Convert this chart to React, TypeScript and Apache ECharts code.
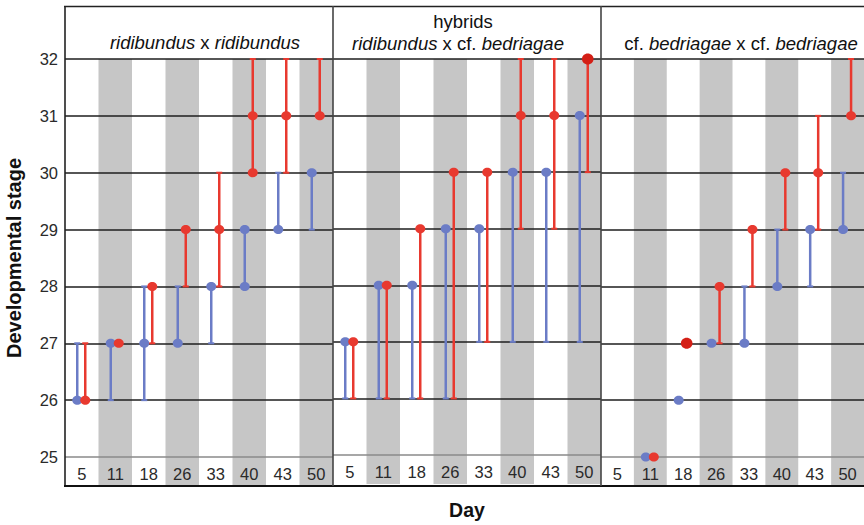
import React, { useEffect, useRef } from 'react';
import * as echarts from 'echarts';

// Day categories (x axis)
const days = ['5', '11', '18', '26', '33', '40', '43', '50'];
const stageTicks = [25, 26, 27, 28, 29, 30, 31, 32];

// ridibundus x ridibundus
const rrBlueLow = [26, 26, 26, 27, 27, 28, 29, 29];
const rrBlueHigh = [27, 27, 28, 28, 28, 29, 30, 30];
const rrBlueDots = [[26], [27], [27], [27], [28], [29, 28], [29], [30]];
const rrRedLow = [26, 27, 27, 28, 28, 30, 30, 31];
const rrRedHigh = [27, 27, 28, 29, 30, 32, 32, 32];
const rrRedDots = [[26], [27], [28], [29], [29], [31, 30], [31], [31]];
const rrRedMarked = [0, 0, 0, 0, 0, 0, 0, 0];

// hybrids ridibundus x cf. bedriagae
const hyBlueLow = [26, 26, 26, 26, 27, 27, 27, 27];
const hyBlueHigh = [27, 28, 28, 29, 29, 30, 30, 31];
const hyBlueDots = [[27], [28], [28], [29], [29], [30], [30], [31]];
const hyRedLow = [26, 26, 26, 26, 27, 29, 29, 30];
const hyRedHigh = [27, 28, 29, 30, 30, 32, 32, 32];
const hyRedDots = [[27], [28], [29], [30], [30], [31], [31], [32]];
const hyRedMarked = [0, 0, 0, 0, 0, 0, 0, 1];

// cf. bedriagae x cf. bedriagae
const bbBlueLow = [null, 25, 26, 27, 27, 28, 28, 29];
const bbBlueHigh = [null, 25, 26, 27, 28, 29, 29, 30];
const bbBlueDots = [[], [25], [26], [27], [27], [28], [29], [29]];
const bbRedLow = [null, 25, 27, 27, 28, 29, 29, 31];
const bbRedHigh = [null, 25, 27, 28, 29, 30, 31, 32];
const bbRedDots = [[], [25], [27], [28], [29], [30], [30], [31]];
const bbRedMarked = [0, 0, 1, 0, 0, 0, 0, 0];

const BLUE = '#6b7cc6';
const RED = '#e8392f';
const DARK_RED = '#d41f16';
const STRIPE = '#c6c6c6';
const FONT = '"Liberation Sans", Arial, Helvetica, sans-serif';

const panels = [
  { bl: rrBlueLow, bh: rrBlueHigh, bd: rrBlueDots, rl: rrRedLow, rh: rrRedHigh, rd: rrRedDots, rm: rrRedMarked },
  { bl: hyBlueLow, bh: hyBlueHigh, bd: hyBlueDots, rl: hyRedLow, rh: hyRedHigh, rd: hyRedDots, rm: hyRedMarked },
  { bl: bbBlueLow, bh: bbBlueHigh, bd: bbBlueDots, rl: bbRedLow, rh: bbRedHigh, rd: bbRedDots, rm: bbRedMarked },
];

const GRID_LEFTS = [65, 333, 601];
const GRID_W = 268;
const GRID_TOP = 59;
const GRID_H = 398;
const BAND = 29;

function rangeSeries(g: number, low: any[], high: any[], dots: number[][], marked: number[] | null, color: string, offset: number) {
  const data: number[][] = [];
  days.forEach((_, i) => {
    if (low[i] != null) data.push([i, low[i], high[i]]);
  });
  return {
    type: 'custom',
    xAxisIndex: g,
    yAxisIndex: g,
    z: 5,
    clip: false,
    silent: true,
    data,
    renderItem: (params: any, api: any) => {
      const i = api.value(0);
      const lo = api.value(1);
      const hi = api.value(2);
      const a = api.coord([i, hi]);
      const b = api.coord([i, lo]);
      const x = a[0] + offset;
      const children: any[] = [];
      if (hi > lo) {
        children.push({ type: 'line', shape: { x1: x, y1: a[1], x2: x, y2: b[1] }, style: { stroke: color, lineWidth: 2.5 } });
        children.push({ type: 'line', shape: { x1: x - 3, y1: a[1], x2: x + 3, y2: a[1] }, style: { stroke: color, lineWidth: 2 } });
        children.push({ type: 'line', shape: { x1: x - 3, y1: b[1], x2: x + 3, y2: b[1] }, style: { stroke: color, lineWidth: 2 } });
      }
      const big = marked && marked[i];
      dots[i].forEach((v) => {
        const p = api.coord([i, v]);
        children.push({
          type: 'ellipse',
          shape: { cx: x, cy: p[1], rx: big ? 5.8 : 5, ry: big ? 5.5 : 4.5 },
          style: { fill: big ? DARK_RED : color },
        });
      });
      return { type: 'group', children };
    },
  };
}

function stripeSeries(g: number) {
  const idx = days.map((_, i) => i).filter((i) => i % 2 === 1);
  return {
    type: 'custom',
    xAxisIndex: g,
    yAxisIndex: g,
    z: -1,
    clip: false,
    silent: true,
    data: idx.map((i) => [i, 25]),
    renderItem: (params: any, api: any) => {
      const i = api.value(0);
      const top = api.coord([i, 32]);
      const bot = api.coord([i, 25]);
      const w = api.size([1, 0])[0];
      return {
        type: 'rect',
        shape: { x: top[0] - w / 2, y: top[1], width: w, height: bot[1] - top[1] + BAND },
        style: { fill: STRIPE },
      };
    },
  };
}

export default function App() {
  const ref = useRef<HTMLDivElement>(null);
  useEffect(() => {
    if (!ref.current) return;
    const chart = echarts.init(ref.current, null, { renderer: 'svg' });

    const grids = GRID_LEFTS.map((l) => ({ left: l, top: GRID_TOP, width: GRID_W, height: GRID_H }));
    const xAxes = GRID_LEFTS.map((_, g) => ({
      type: 'category',
      gridIndex: g,
      data: days,
      axisLine: { show: false },
      axisTick: { show: false },
      splitLine: { show: false },
      axisLabel: { fontSize: 16.5, color: '#2a2a2a', margin: 8, fontFamily: FONT },
      ...(g === 1
        ? {
            name: 'Day',
            nameLocation: 'middle',
            nameGap: 45,
            nameTextStyle: { fontSize: 19.5, fontWeight: 'bold', color: '#111', fontFamily: FONT },
          }
        : {}),
      z: 1,
    }));
    const yAxes = GRID_LEFTS.map((_, g) => ({
      type: 'value',
      gridIndex: g,
      min: stageTicks[0],
      max: stageTicks[stageTicks.length - 1],
      interval: 1,
      axisLine: { show: false },
      axisTick: { show: false },
      axisLabel: { show: g === 0, fontSize: 16.5, color: '#2a2a2a', margin: 7, fontFamily: FONT },
      splitLine: {
        show: true,
        lineStyle: { color: ['#8a8a8a', '#1e1e1e', '#1e1e1e', '#1e1e1e', '#1e1e1e', '#1e1e1e', '#1e1e1e', '#1e1e1e'], width: 1.6 },
      },
      ...(g === 0
        ? {
            name: 'Developmental stage',
            nameLocation: 'middle',
            nameGap: 41,
            nameRotate: 90,
            nameTextStyle: { fontSize: 20, fontWeight: 'bold', color: '#111', fontFamily: FONT },
          }
        : {}),
      z: 1,
    }));

    const series: any[] = [];
    panels.forEach((p, g) => {
      series.push(stripeSeries(g));
      series.push(rangeSeries(g, p.bl, p.bh, p.bd, null, BLUE, -4.5));
      series.push(rangeSeries(g, p.rl, p.rh, p.rd, p.rm, RED, 3.5));
    });

    const frameLine = (x1: number, y1: number, x2: number, y2: number, stroke = '#222', w = 1.6) => ({
      type: 'line',
      z: 20,
      silent: true,
      shape: { x1, y1, x2, y2 },
      style: { stroke, lineWidth: w },
    });
    const TS = 18.5;
    const title = (x: number, y: number, text: string) => ({
      type: 'text',
      z: 20,
      x,
      y,
      style: {
        text,
        fontSize: TS,
        fontFamily: FONT,
        fill: '#111',
        align: 'center',
        verticalAlign: 'middle',
        rich: {
          i: { fontStyle: 'italic', fontSize: TS, fontFamily: FONT, fill: '#111' },
          n: { fontSize: TS, fontFamily: FONT, fill: '#111' },
        },
      },
    });

    const option: any = {
      animation: false,
      grid: grids,
      xAxis: xAxes,
      yAxis: yAxes,
      series,
      graphic: [
        frameLine(64, 6.5, 864, 6.5),
        frameLine(65, 6, 65, 486.5),
        frameLine(64, 486, 864, 486, '#111', 1.8),
        frameLine(333, 6, 333, 486, '#444', 1.6),
        frameLine(601, 6, 601, 486, '#444', 1.6),
        title(205, 42, '{i|ridibundus}{n| x }{i|ridibundus}'),
        title(463, 21, '{n|hybrids}'),
        title(458, 43, '{i|ridibundus}{n| x cf. }{i|bedriagae}'),
        title(741, 43, '{n|cf. }{i|bedriagae}{n| x cf. }{i|bedriagae}'),
      ],
    };
    chart.setOption(option);
    return () => chart.dispose();
  }, []);
  return <div ref={ref} style={{ position: 'fixed', left: 0, top: 0, width: 864, height: 525, background: '#fff' }} />;
}
